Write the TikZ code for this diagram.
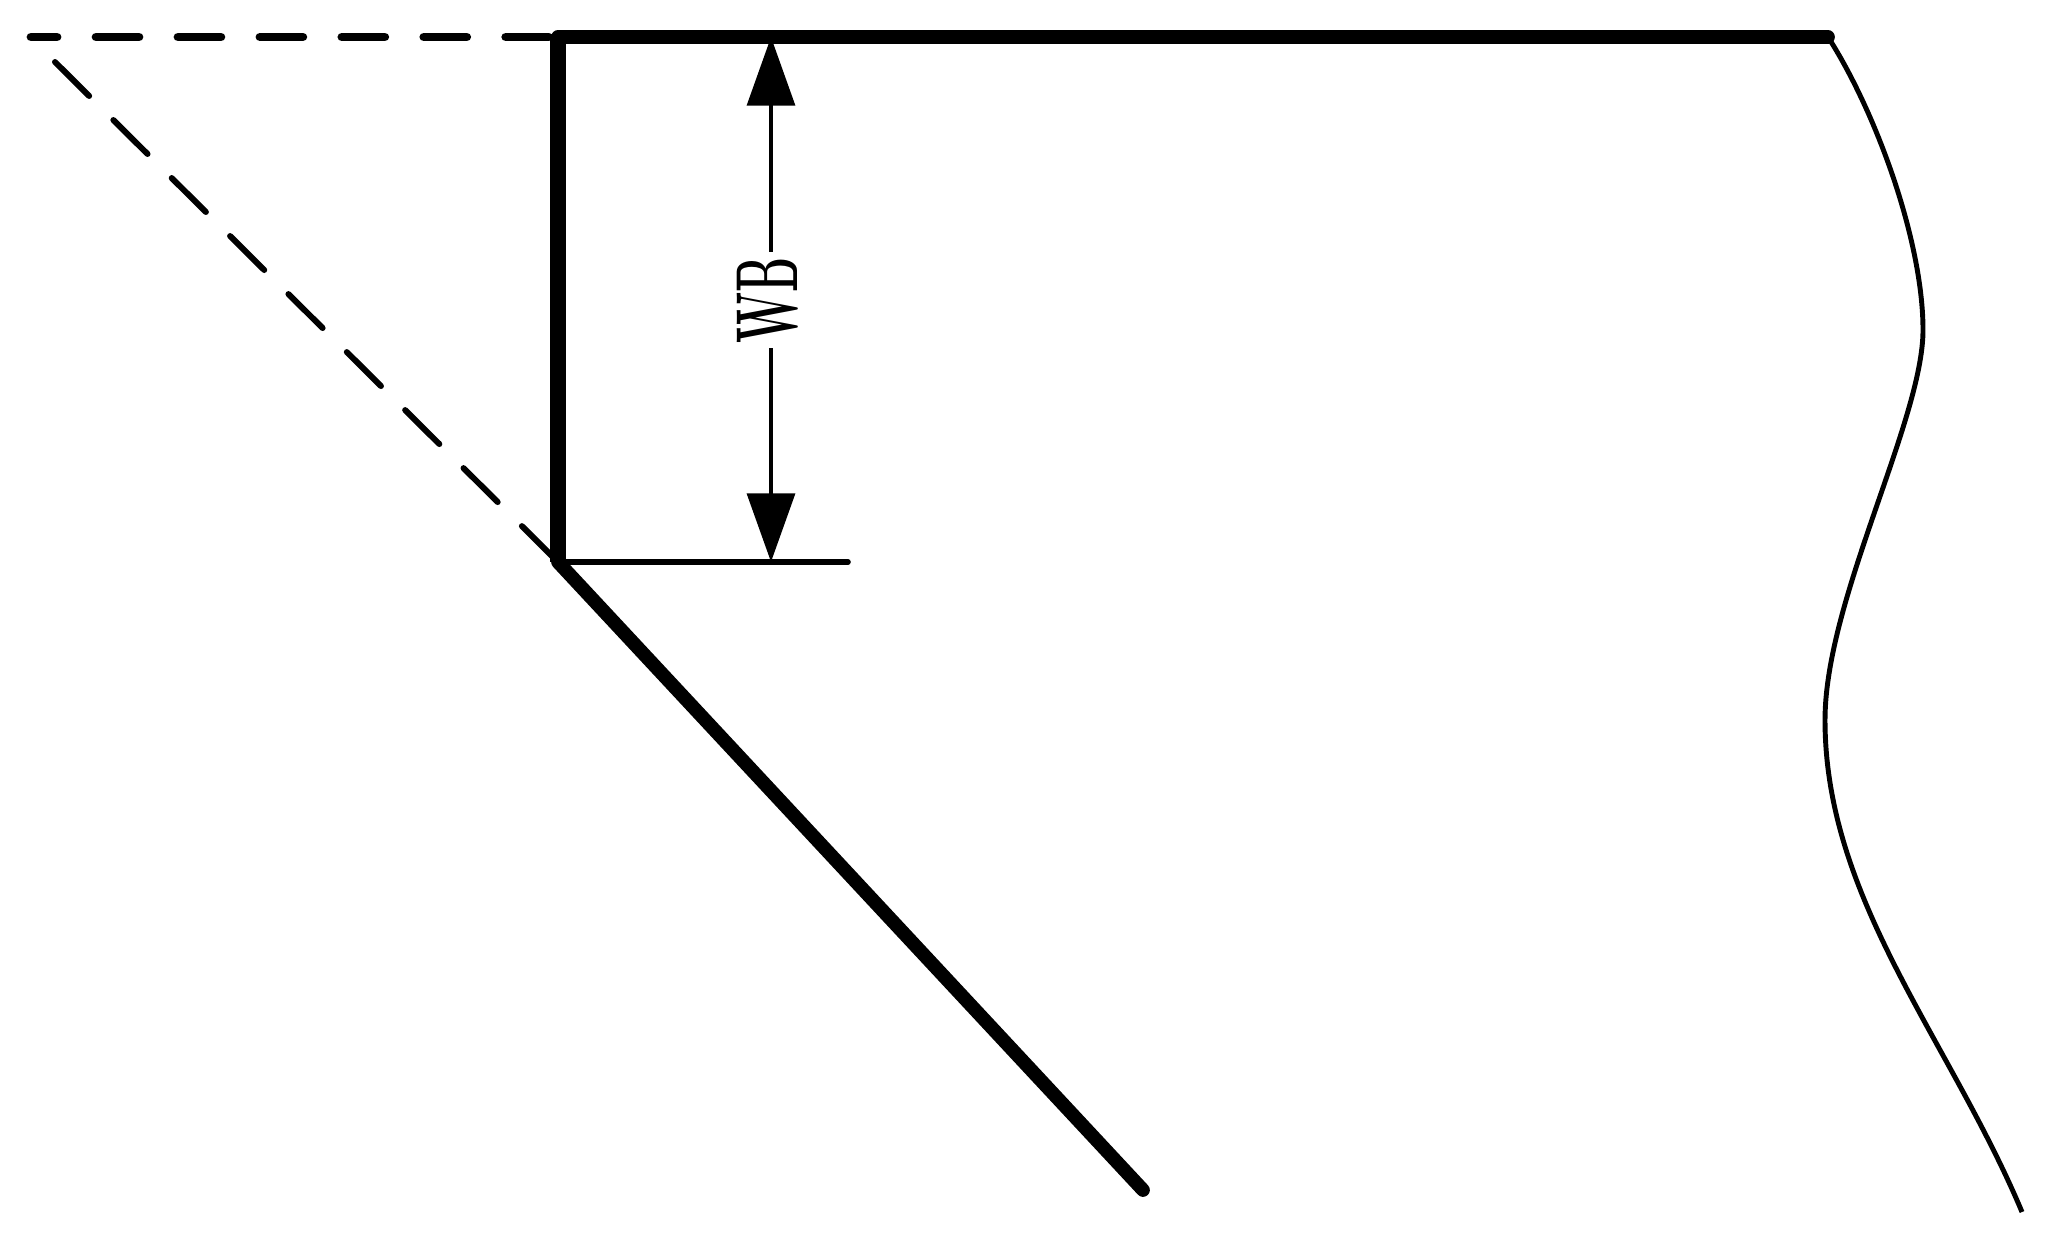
\documentclass[tikz,border=0pt]{standalone}
\usepackage{graphicx}
\usetikzlibrary{arrows.meta}
\usetikzlibrary{positioning}
\tikzset{
  heavy/.style={line width=3.9pt,line cap=round},
  fine/.style={line width=1.4pt},
  hidden/.style={line cap=round},
  dimtip/.style={{Triangle[length=19.5pt,width=13.5pt]}-{Triangle[length=19.5pt,width=13.5pt]}}
}
\begin{document}
\begin{tikzpicture}[x=0.01cm,y=-0.01cm]
\useasboundingbox (0,0) rectangle (2051,1235);
\coordinate (leftend) at (31,37);
\coordinate (diagend) at (55,62);
\coordinate (top) at (558,37);
\coordinate (corner) at (558,562);
\coordinate (topright) at (1828,37);
\coordinate (toe) at (1143,1190);
\coordinate (tick) at (848,562);
\coordinate (dimtop) at (771,37);
\coordinate (dimbot) at (771,562);
\coordinate (peak) at (1923,330);
\coordinate (hollow) at (1825,720);
\coordinate (breakend) at (2022,1212);

\draw[hidden,line width=2.5pt,dash pattern=on 12.2pt off 11.1pt,dash phase=4.8pt] (leftend) -- (top);
\draw[hidden,line width=1.7pt,dash pattern=on 13.7pt off 9.7pt] (diagend) -- (corner);
\draw[fine,line width=1.6pt,line cap=round] (corner) -- (tick);
\draw[fine,dimtip] (dimtop) -- (dimbot);
\node[fill=white,inner sep=1.5pt,rotate=90] (wb) at (768,300)
  {\scalebox{.5}[1]{\fontsize{25}{25}\selectfont\bfseries WB}};

\draw[heavy] (top) -- (topright);
\draw[line width=4.3pt] (top) -- (corner);
\draw[heavy] (corner) -- (toe);

\draw[fine] (topright) .. controls (1875,110) and (1923,240) .. (peak)
  .. controls (1923,420) and (1825,600) .. (hollow)
  .. controls (1825,900) and (1950,1040) .. (breakend);
\end{tikzpicture}
\end{document}
